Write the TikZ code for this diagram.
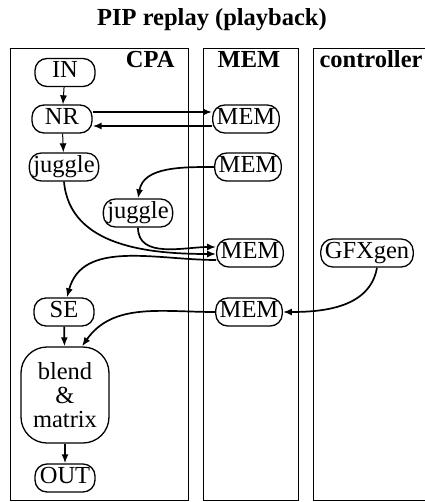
\documentclass[tikz,border=0pt]{standalone}
\usepackage{fontspec}
\setmainfont{Liberation Serif}
\usetikzlibrary{arrows.meta, positioning}

\tikzset{
  box/.style={draw, line width=1.3pt, font=\fontsize{24.5}{24}\selectfont},
  unit/.style={box, rounded corners=12pt, minimum width=60pt, minimum height=28pt,
    inner xsep=4pt, inner ysep=0pt, text height=16pt, text depth=5pt},
  lane/.style={draw, line width=1pt},
  lanelabel/.style={font=\fontsize{24.5}{24}\selectfont\bfseries},
  flow/.style={-{Latex[length=9pt,width=7pt]}, line width=1.7pt},
}

\begin{document}
\begin{tikzpicture}[x=1pt,y=-1pt]
    \useasboundingbox (0,0) rectangle (424,502);
    % title and lanes
    \node[lanelabel, anchor=base] (title) at (212,26) {PIP replay (playback)};
    \draw[lane] (10,49) rectangle (188,500);
    \draw[lane] (203,49) rectangle (298,500);
    \draw[lane] (430,49) -- (313,49) -- (313,500) -- (430,500);
    \node[lanelabel, anchor=base east] (cpa) at (178,68) {CPA};
    \node[lanelabel, anchor=base] (mem) at (249,68) {MEM};
    \node[lanelabel, anchor=base west] (ctrl) at (316,68) {controller};
    % units
    \node[unit] (in) at (65,72.5) {IN};
    \node[unit] (nr) at (62,119) {NR};
    \node[unit] (memA) at (246,119) {MEM};
    \node[unit] (jugA) at (64,167) {juggle};
    \node[unit] (memB) at (248,167) {MEM};
    \node[unit] (jugB) at (138,213) {juggle};
    \node[unit] (memC) at (250,253) {MEM};
    \node[unit] (gfx) at (367,253) {GFXgen};
    \node[unit] (se) at (64,312) {SE};
    \node[unit] (memD) at (249,312) {MEM};
    \node[box, align=center, rounded corners=26pt, minimum width=88pt,
      minimum height=96pt, inner sep=0pt] (blend) at (65,395) {blend\\\&\\matrix};
    \node[unit] (out) at (65,478) {OUT};
    % data flow
    \draw[flow, line width=1pt] (in) -- (nr);
    \draw[flow] ([yshift=7pt]nr.east) -- ([yshift=7pt]memA.west);
    \draw[flow] ([yshift=-7pt]memA.west) -- ([yshift=-7pt]nr.east);
    \draw[flow, line width=1pt] (nr) -- (jugA);
    \draw[flow] (memB.west) to[out=180,in=80] (jugB.north);
    \draw[flow] (jugA.south) to[out=-85,in=180] ([yshift=-1pt]memC.west);
    \draw[flow] (jugB.south) to[out=-90,in=180] ([yshift=6pt]memC.west);
    \draw[flow] ([yshift=-7pt]memC.west) to[out=180,in=75] ([xshift=3pt]se.north);
    \draw[flow] ([xshift=10pt]gfx.south) to[out=-100,in=0] (memD.east);
    \draw[flow] (memD.west) to[out=180,in=55] ([xshift=17pt]blend.north);
    \draw[flow] (se) -- (blend);
    \draw[flow] (blend) -- (out);
\end{tikzpicture}
\end{document}
